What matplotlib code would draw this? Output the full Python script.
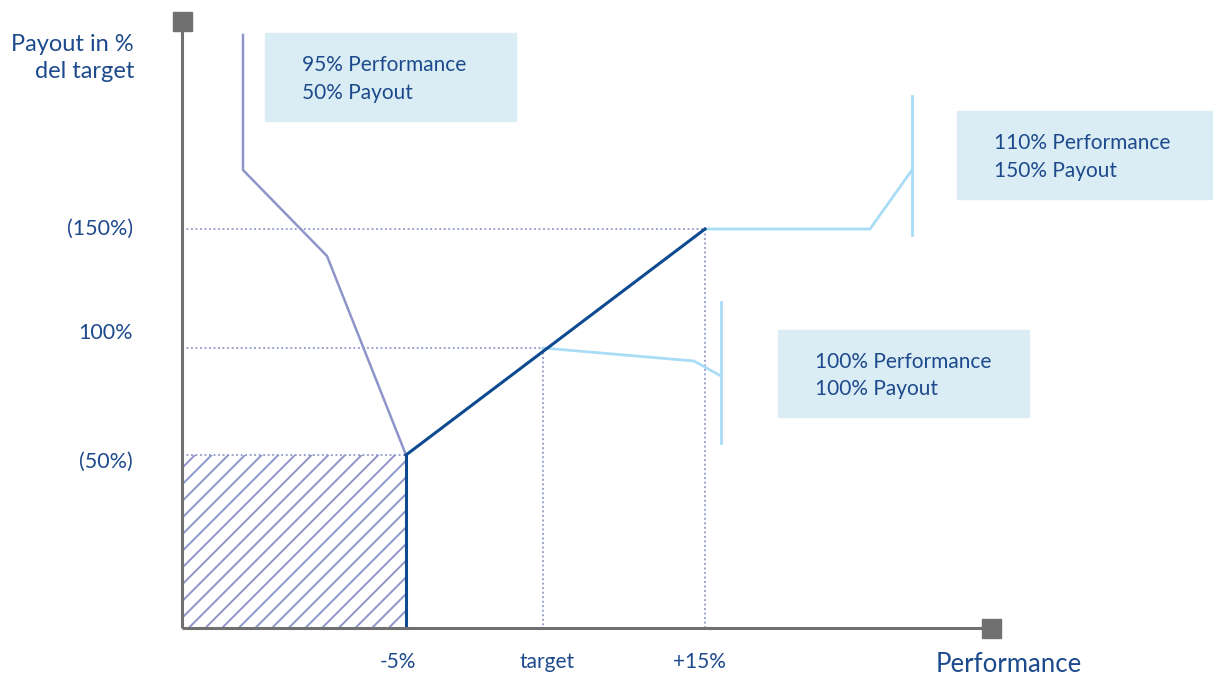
import matplotlib.pyplot as plt
import matplotlib.patches as patches

# schematic positions (pixel-like units, y grows downward)
perf_labels = ["-5%", "target", "+15%"]
perf_x = [406, 543, 705]
perf_label_x = [398, 547, 699]
payout_labels = ["(50%)", "100%", "(150%)"]
payout_y = [455, 348, 229]
payout_label_y = [462, 333, 229]

# callout leader lines
lead_low_x = [243, 243, 327, 406]
lead_low_y = [35, 170, 256, 455]
lead_mid_x = [543, 694, 721]
lead_mid_y = [348, 361, 376]
lead_high_x = [705, 870, 912]
lead_high_y = [229, 229, 170]

boxes = [
    (265, 33, 251, 88, "95% Performance\n50% Payout"),
    (778, 330, 251, 87, "100% Performance\n100% Payout"),
    (957, 111, 256, 88, "110% Performance\n150% Payout"),
]

TXT = "#1d4a8c"
AXC = "#707070"
PURPLE = "#8e96c9"
LBLUE = "#a9dcf5"
DARK = "#0d4a8f"
BOXC = "#daecf4"

plt.rcParams['font.family'] = ['Lato', 'DejaVu Sans']
plt.rcParams['hatch.color'] = PURPLE
plt.rcParams['hatch.linewidth'] = 1.4

fig = plt.figure(figsize=(12.13, 6.78), dpi=100)
ax = fig.add_axes([0, 0, 1, 1])
ax.set_xlim(0, 1213)
ax.set_ylim(678, 0)
ax.axis('off')

x0, y0 = 182, 628

# hatched zone
rect = patches.Rectangle((x0, payout_y[0]), perf_x[0] - x0, y0 - payout_y[0],
                         facecolor='white', edgecolor=PURPLE, hatch='//', linewidth=0)
ax.add_patch(rect)

# dotted guides
for px, py in zip(perf_x, payout_y):
    ax.plot([x0, px], [py, py], color=PURPLE, lw=1.3, ls=(0, (1, 1.5)))
for px, py in zip(perf_x[1:], payout_y[1:]):
    ax.plot([px, px], [py, y0], color=PURPLE, lw=1.3, ls=(0, (1, 1.5)))
ax.plot([x0 + 1, x0 + 1], [payout_y[0], y0], color=PURPLE, lw=1.3, ls=(0, (1, 1.5)))

# leader lines
ax.plot(lead_low_x, lead_low_y, color=PURPLE, lw=1.8)
ax.plot(lead_mid_x, lead_mid_y, color=LBLUE, lw=2)
ax.plot([721, 721], [302, 443], color=LBLUE, lw=2)
ax.plot(lead_high_x, lead_high_y, color=LBLUE, lw=2)
ax.plot([912, 912], [96, 235], color=LBLUE, lw=2)

# payout curve
ax.plot([perf_x[0], perf_x[0]], [y0, payout_y[0]], color=DARK, lw=2.2)
ax.plot([perf_x[0], perf_x[2]], [payout_y[0], payout_y[2]], color=DARK, lw=2.2)

# axes
ax.plot([x0, x0], [y0, 21], color=AXC, lw=2.2, solid_capstyle='butt')
ax.plot([x0, 991], [y0, y0], color=AXC, lw=2.2, solid_capstyle='butt')
ax.add_patch(patches.Rectangle((173, 12), 19, 19, color=AXC))
ax.add_patch(patches.Rectangle((982, 619), 19, 19, color=AXC))

# boxes
for bx, by, bw, bh, txt in boxes:
    ax.add_patch(patches.Rectangle((bx, by), bw, bh, color=BOXC, zorder=0))
    ax.text(bx + 37, by + bh / 2 + 2, txt, color=TXT, fontsize=15, va='center', ha='left',
            linespacing=1.45)

# labels
for lab, ly in zip(payout_labels, payout_label_y):
    ax.text(133, ly, lab, color=TXT, fontsize=15.5, ha='right', va='center')
for lab, lx in zip(perf_labels, perf_label_x):
    ax.text(lx, 662, lab, color=TXT, fontsize=15, ha='center', va='center')
ax.text(134, 58, "Payout in %\ndel target", color=TXT, fontsize=17, ha='right', va='center',
        linespacing=1.4)
ax.text(936, 665, "Performance", color=TXT, fontsize=18.5, ha='left', va='center')

fig.savefig("out.png", dpi=100)
